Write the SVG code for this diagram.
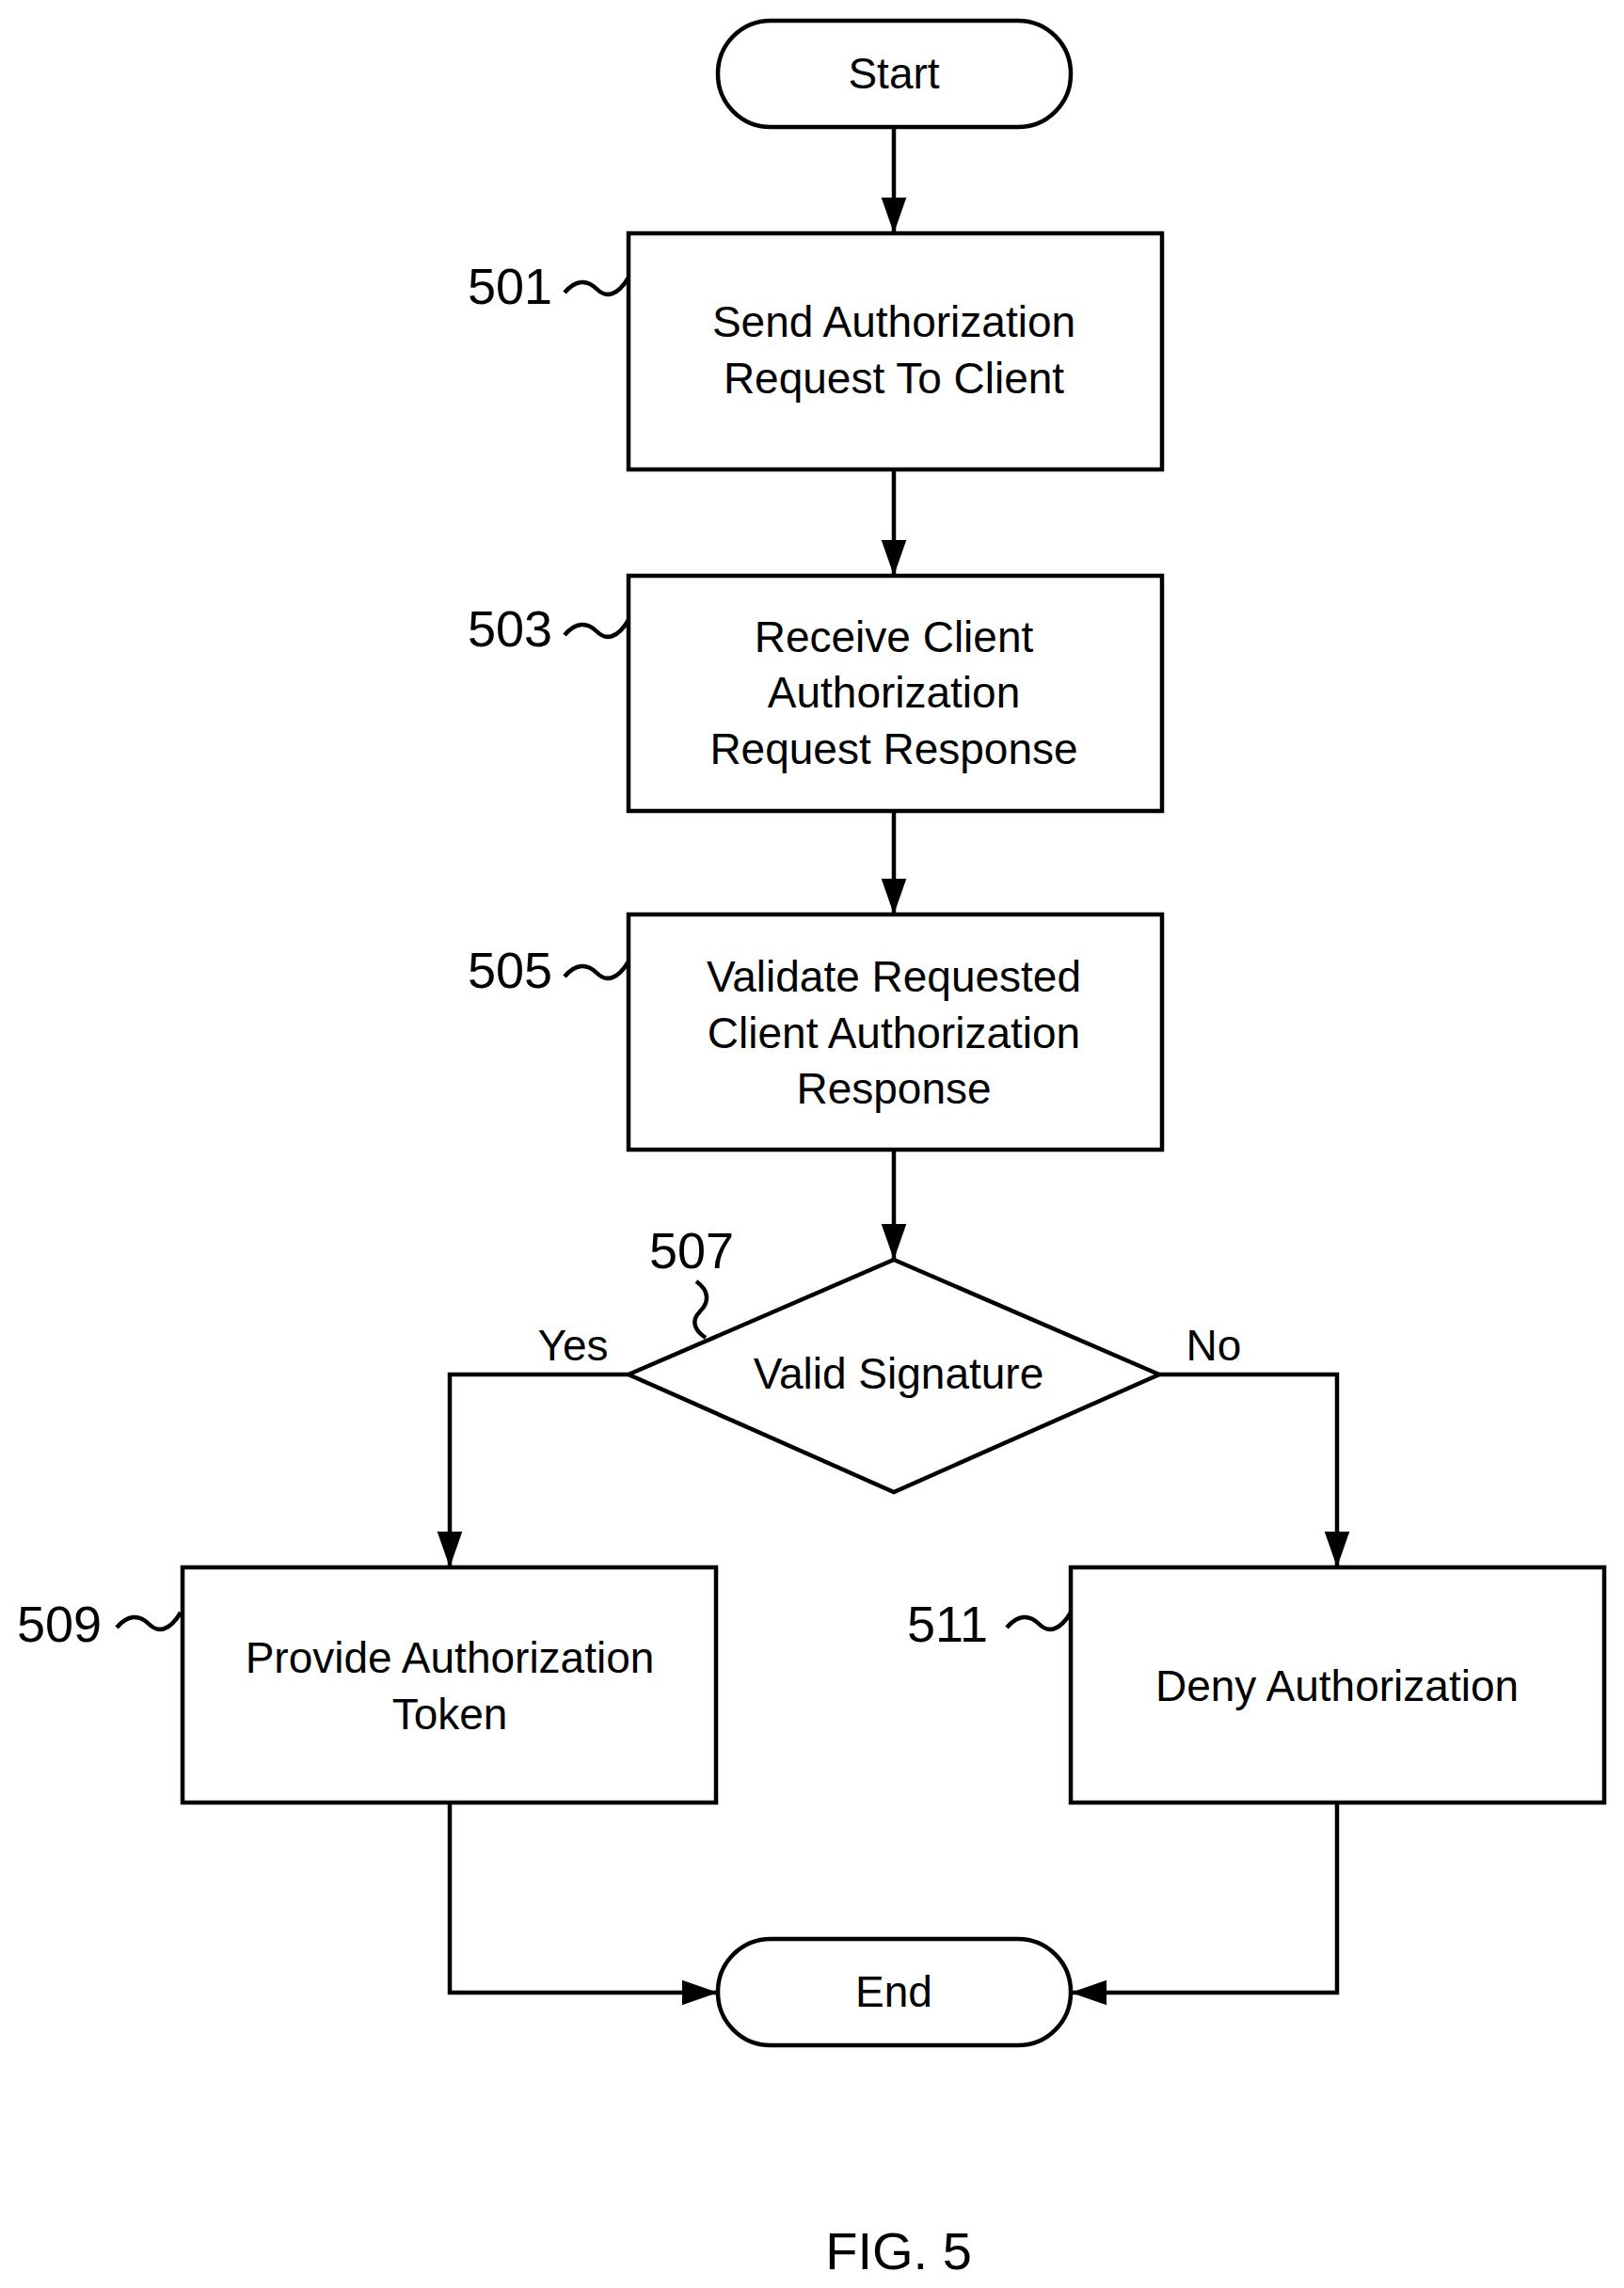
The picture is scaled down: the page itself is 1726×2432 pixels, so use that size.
<svg xmlns="http://www.w3.org/2000/svg" width="1726" height="2432" viewBox="0 0 1726 2432">
<defs>
<style>
.s{fill:#fff;stroke:#000;stroke-width:4.5}
.l{fill:none;stroke:#000;stroke-width:4.5}
.t{font-family:"Liberation Sans",Arial,sans-serif;font-size:46px;fill:#000;text-anchor:middle}
.n{font-family:"Liberation Sans",Arial,sans-serif;font-size:54px;fill:#000}
</style>
<marker id="a" viewBox="0 0 10 10" refX="10" refY="5" markerWidth="8" markerHeight="8" markerUnits="userSpaceOnUse" orient="auto">
<path d="M0,0L10,5L0,10z" fill="#000"/>
</marker>
<marker id="b" viewBox="0 0 10 10" refX="10" refY="5" markerWidth="38" markerHeight="38" markerUnits="userSpaceOnUse" orient="auto">
<path d="M0,1.5L10,5L0,8.5z" fill="#000"/>
</marker>
</defs>
<rect width="1726" height="2432" fill="#fff"/>
<g id="connectors" class="l">
<path d="M950,135V248" marker-end="url(#b)"/>
<path d="M950,499V612" marker-end="url(#b)"/>
<path d="M950,862V972" marker-end="url(#b)"/>
<path d="M950,1222V1339" marker-end="url(#b)"/>
<path d="M668,1461H478V1666" marker-end="url(#b)"/>
<path d="M1232,1461H1421V1666" marker-end="url(#b)"/>
<path d="M478,1916V2118H763" marker-end="url(#b)"/>
<path d="M1421,1916V2118H1138" marker-end="url(#b)"/>
</g>
<g id="start"><rect class="s" x="763" y="22" width="375" height="113" rx="56"/><text class="t" x="950" y="94">Start</text></g>
<g id="n501"><rect class="s" x="668" y="248" width="567" height="251"/>
<text class="t" x="950" y="358">Send Authorization</text><text class="t" x="950" y="418">Request To Client</text>
<text class="n" x="497" y="323">501</text><path class="l" d="M600,311c12,-14 24,-14 34,-4s22,8 34,-12"/></g>
<g id="n503"><rect class="s" x="668" y="612" width="567" height="250"/>
<text class="t" x="950" y="693">Receive Client</text><text class="t" x="950" y="752">Authorization</text><text class="t" x="950" y="812">Request Response</text>
<text class="n" x="497" y="687">503</text><path class="l" d="M600,675c12,-14 24,-14 34,-4s22,8 34,-12"/></g>
<g id="n505"><rect class="s" x="668" y="972" width="567" height="250"/>
<text class="t" x="950" y="1054">Validate Requested</text><text class="t" x="950" y="1114">Client Authorization</text><text class="t" x="950" y="1173">Response</text>
<text class="n" x="497" y="1050">505</text><path class="l" d="M600,1038c12,-14 24,-14 34,-4s22,8 34,-12"/></g>
<g id="n507"><path class="s" d="M950,1339L1232,1461L950,1586L668,1461z"/>
<text class="t" x="955" y="1476">Valid Signature</text>
<text class="n" x="690" y="1348">507</text><path class="l" d="M740,1362c14,10 14,22 4,32s-6,20 6,28"/>
<text class="t" x="609" y="1446">Yes</text><text class="t" x="1290" y="1446">No</text></g>
<g id="n509"><rect class="s" x="194" y="1666" width="567" height="250"/>
<text class="t" x="478" y="1778">Provide Authorization</text><text class="t" x="478" y="1838">Token</text>
<text class="n" x="18" y="1745">509</text><path class="l" d="M124,1730c12,-14 24,-14 34,-4s22,8 34,-12"/></g>
<g id="n511"><rect class="s" x="1138" y="1666" width="567" height="250"/>
<text class="t" x="1421" y="1808">Deny Authorization</text>
<text class="n" x="964" y="1745">511</text><path class="l" d="M1070,1730c12,-14 24,-14 34,-4s22,8 34,-12"/></g>
<g id="end"><rect class="s" x="763" y="2061" width="375" height="113" rx="56"/><text class="t" x="950" y="2133">End</text></g>
<text class="t" x="955" y="2412" style="font-size:56px">FIG. 5</text>
</svg>
